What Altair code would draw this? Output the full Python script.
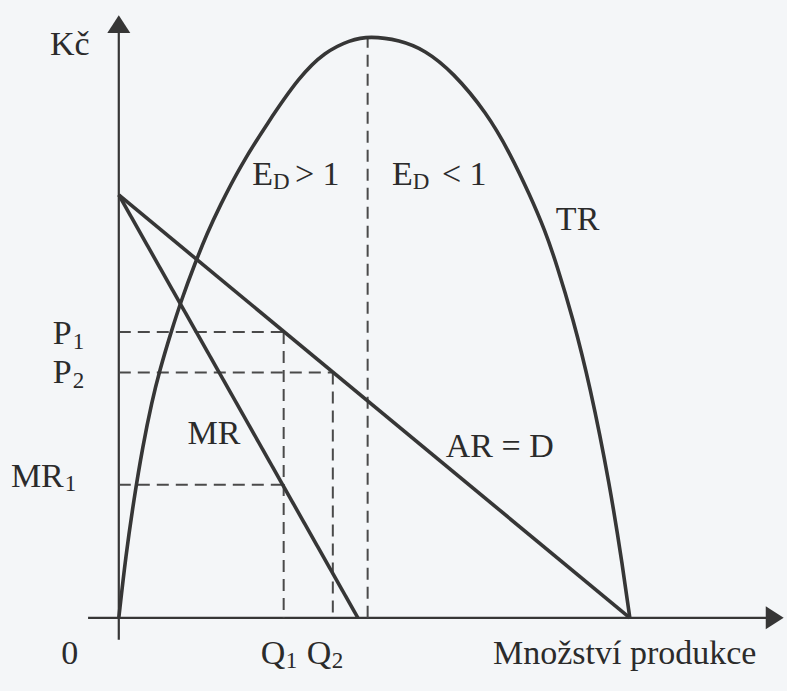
import altair as alt
import pandas as pd

# Quantity (horizontal) and Kč (vertical) ranges of the drawing
X_DOMAIN = [-2.32, 13.05]
Y_DOMAIN = [-1.73, 14.61]

# AR = D and MR straight lines (end points)
ar_q = [0.0, 9.98]
ar_kc = [10.0, 0.0]
mr_q = [0.0, 4.67]
mr_kc = [10.0, 0.0]

# Total revenue curve
tr_q = [0.0, 0.137, 0.293, 0.469, 0.645, 0.801, 1.016, 1.230, 1.484, 1.719,
        1.973, 2.363, 2.891, 3.535, 4.023, 4.512, 4.902,
        5.488, 5.977, 6.523, 7.188, 7.637, 8.027, 8.320, 8.555, 8.867,
        9.199, 9.590, 9.844, 9.980]
tr_kc = [0.0, 1.466, 2.790, 4.066, 5.106, 5.863, 6.738, 7.541, 8.369, 9.078,
         9.740, 10.662, 11.678, 12.813, 13.381, 13.664, 13.759,
         13.664, 13.430, 12.908, 11.939, 10.993, 10.000, 9.173, 8.345, 7.092,
         5.508, 3.144, 1.182, 0.0]

# Marked quantities and prices
q1, q2, q_peak = 3.22, 4.18, 4.86
p1, p2, mr1, tr_max = 6.76, 5.80, 3.15, 13.74

INK = "#363636"
FONT = "Liberation Serif"

x_scale = alt.Scale(domain=X_DOMAIN, nice=False, zero=False)
y_scale = alt.Scale(domain=Y_DOMAIN, nice=False, zero=False)
X = lambda f: alt.X(f, type="quantitative", scale=x_scale, axis=None)
Y = lambda f: alt.Y(f, type="quantitative", scale=y_scale, axis=None)

# Coordinate axes
axes_df = pd.DataFrame({
    "x": [0.0, -0.6], "y": [-0.52, 0.0],
    "x2": [0.0, 12.85], "y2": [14.0, 0.0],
})
axes = alt.Chart(axes_df).mark_rule(color=INK, strokeWidth=2.2).encode(
    x=X("x"), y=Y("y"), x2="x2", y2="y2")

arrow_up = alt.Chart(pd.DataFrame({"x": [0.0], "y": [14.04]})).mark_point(
    shape="M-1,0.78L0,-0.78L1,0.78Z", size=529, filled=True, opacity=1,
    color=INK).encode(x=X("x"), y=Y("y"))
arrow_right = alt.Chart(pd.DataFrame({"x": [12.81], "y": [0.0]})).mark_point(
    shape="M-0.78,-1L0.78,0L-0.78,1Z", size=529, filled=True, opacity=1,
    color=INK).encode(x=X("x"), y=Y("y"))

# Dashed guide lines
dash_df = pd.DataFrame(
    [(0.0, p1, q1, p1), (q1, p1, q1, 0.0),
     (0.0, p2, q2, p2), (q2, p2, q2, 0.0),
     (0.0, mr1, q1, mr1), (q_peak, 0.0, q_peak, tr_max)],
    columns=["x", "y", "x2", "y2"])
dashes = alt.Chart(dash_df).mark_rule(
    color="#4a4a4a", strokeWidth=2, strokeDash=[12, 7]).encode(
    x=X("x"), y=Y("y"), x2="x2", y2="y2")

# Revenue curves
lines_df = pd.DataFrame({
    "q": ar_q + mr_q,
    "kc": ar_kc + mr_kc,
    "series": ["AR"] * len(ar_q) + ["MR"] * len(mr_q),
})
straight = alt.Chart(lines_df).mark_line(color=INK, strokeWidth=3.6).encode(
    x=X("q"), y=Y("kc"), detail="series:N")

tr_df = pd.DataFrame({"q": tr_q, "kc": tr_kc})
tr_line = alt.Chart(tr_df).mark_line(
    color=INK, strokeWidth=3.6, interpolate="basis").encode(
    x=X("q"), y=Y("kc"))

# Labels: (text, q, kc, font size, align)
labels = [
    ("Kč", -0.957, 13.31, 34, "center"),
    ("P", -0.918, 6.48, 34, "right"), ("1", -0.898, 6.36, 23, "left"),
    ("P", -0.918, 5.56, 34, "right"), ("2", -0.898, 5.44, 23, "left"),
    ("MR", -1.074, 3.10, 34, "right"), ("1", -1.055, 3.00, 23, "left"),
    ("0", -0.957, -1.09, 34, "center"),
    ("Q", 3.25, -1.09, 34, "right"), ("1", 3.26, -1.18, 23, "left"),
    ("Q", 4.15, -1.09, 34, "right"), ("2", 4.16, -1.18, 23, "left"),
    ("Množství produkce", 9.88, -1.09, 34, "center"),
    ("E", 3.01, 10.24, 34, "right"), ("D", 3.01, 10.14, 23, "left"),
    ("> 1", 3.44, 10.24, 34, "left"),
    ("E", 5.74, 10.24, 34, "right"), ("D", 5.74, 10.14, 23, "left"),
    ("< 1", 6.31, 10.24, 34, "left"),
    ("TR", 8.96, 9.17, 34, "center"),
    ("MR", 1.86, 4.11, 34, "center"),
    ("AR = D", 7.44, 3.81, 34, "center"),
]
lab_df = pd.DataFrame(labels, columns=["text", "q", "kc", "fs", "align"])

text_layers = []
for al in ["left", "center", "right"]:
    sub = lab_df[lab_df["align"] == al]
    text_layers.append(
        alt.Chart(sub).mark_text(
            align=al, baseline="alphabetic", font=FONT, color="#2b2b2b").encode(
            x=X("q"), y=Y("kc"), text="text:N",
            size=alt.Size("fs:Q", scale=None))
    )

chart = alt.layer(
    axes, dashes, straight, tr_line, arrow_up, arrow_right, *text_layers
).properties(
    width=787, height=691, padding=0, autosize="none", background="#f4f6f8"
).configure_view(stroke=None)

chart.save("out.html", embed_options={"renderer": "svg", "actions": False})
